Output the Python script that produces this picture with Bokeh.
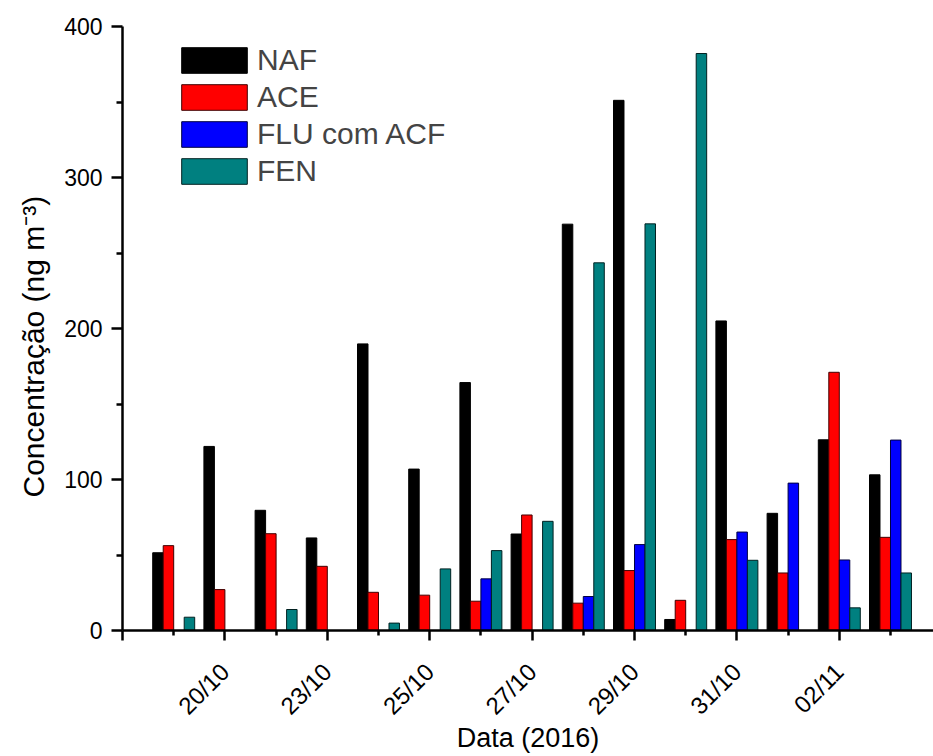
from bokeh.plotting import figure
from bokeh.models import Range1d, FixedTicker, Legend, LegendItem, Title
from bokeh.embed import file_html
from bokeh.resources import INLINE

nan = float("nan")

# Sampling campaign, October–November 2016 (one group of bars per sample)
positions = list(range(1, 16))
tick_positions = [0, 2, 4, 6, 8, 10, 12, 14]
tick_labels = ["", "20/10", "23/10", "25/10", "27/10", "29/10", "31/10", "02/11"]

# Concentrations in ng m-3 (NaN = not detected)
naf = [51.5, 121.9, 79.6, 61.3, 189.8, 106.9, 164.2, 63.9, 269.1, 351.1, 7.3, 205.0, 77.6, 126.3, 103.1]
ace = [56.2, 27.1, 64.1, 42.5, 25.3, 23.4, 19.4, 76.5, 18.1, 39.7, 20.0, 60.2, 38.1, 171.0, 61.7]
flu = [nan, nan, nan, nan, nan, nan, 34.2, nan, 22.5, 56.9, nan, 65.2, 97.6, 46.7, 126.1]
fen = [8.8, nan, 13.9, nan, 4.9, 40.8, 52.9, 72.3, 243.5, 269.3, 382.1, 46.5, nan, 15.0, 38.1]

series = [
    ("NAF", naf, "#000000", "#000000"),
    ("ACE", ace, "#ff0000", "#400000"),
    ("FLU com ACF", flu, "#0000ff", "#000040"),
    ("FEN", fen, "#008080", "#002020"),
]

FONT = "Liberation Sans"
bar_w = 0.205

p = figure(
    width=933, height=756,
    x_range=Range1d(0, 15.84), y_range=Range1d(0, 400),
    output_backend="svg", toolbar_location=None,
    min_border_left=122, min_border_right=0,
    min_border_top=26, min_border_bottom=125,
)
p.outline_line_color = None
p.xgrid.visible = False
p.ygrid.visible = False
p.background_fill_color = "white"
p.border_fill_color = "white"

items = []
for i, (name, vals, fill, edge) in enumerate(series):
    offset = (i - 1.5) * bar_w
    xs = [x + offset for x in positions]
    r = p.vbar(x=xs, top=vals, bottom=0, width=bar_w,
               fill_color=fill, line_color=edge, line_width=1)
    items.append(LegendItem(label=name, renderers=[r]))

legend = Legend(
    items=items, location=(51, 442),
    glyph_width=82, glyph_height=32, label_height=32,
    spacing=3, padding=0, margin=0, label_standoff=2,
    label_text_font=FONT, label_text_font_size="30px",
    border_line_alpha=0, background_fill_alpha=0,
)
p.add_layout(legend, "center")

# x axis
p.xaxis.ticker = FixedTicker(ticks=tick_positions, minor_ticks=[x for x in positions if x % 2 == 1])
p.xaxis.major_label_overrides = {t: lab for t, lab in zip(tick_positions, tick_labels)}
p.xaxis.major_label_orientation = 0.7854
p.xaxis.axis_label = "Data (2016)"

# y axis
p.yaxis.ticker = FixedTicker(ticks=[0, 100, 200, 300, 400], minor_ticks=[50, 150, 250, 350])

for ax in (p.xaxis[0], p.yaxis[0]):
    ax.axis_line_width = 2.5
    ax.axis_line_color = "black"
    ax.major_tick_line_width = 2.5
    ax.minor_tick_line_width = 2.5
    ax.major_tick_line_color = "black"
    ax.minor_tick_line_color = "black"
    ax.major_tick_in = 0
    ax.minor_tick_in = 0
    ax.major_label_text_font = FONT
    ax.major_label_text_color = "black"
    ax.axis_label_text_font = FONT
    ax.axis_label_text_font_size = "27px"
    ax.axis_label_text_font_style = "normal"
    ax.axis_label_text_color = "black"

p.xaxis.major_label_text_font_size = "24px"
p.yaxis.major_label_text_font_size = "23px"
p.xaxis.major_tick_out = 10
p.xaxis.minor_tick_out = 5
p.xaxis.major_label_standoff = 27
p.xaxis.axis_label_standoff = -9
p.yaxis.major_tick_out = 11
p.yaxis.minor_tick_out = 6
p.yaxis.major_label_standoff = 9

# y-axis title in the left panel, starting a fixed distance above the x axis
ytitle = Title(
    text="Concentração (ng m⁻³)", align="left", offset=133, standoff=24,
    text_font=FONT, text_font_size="30px", text_font_style="normal",
    text_color="black",
)
p.add_layout(ytitle, "left")

open("out.html", "w").write(file_html(p, INLINE))
